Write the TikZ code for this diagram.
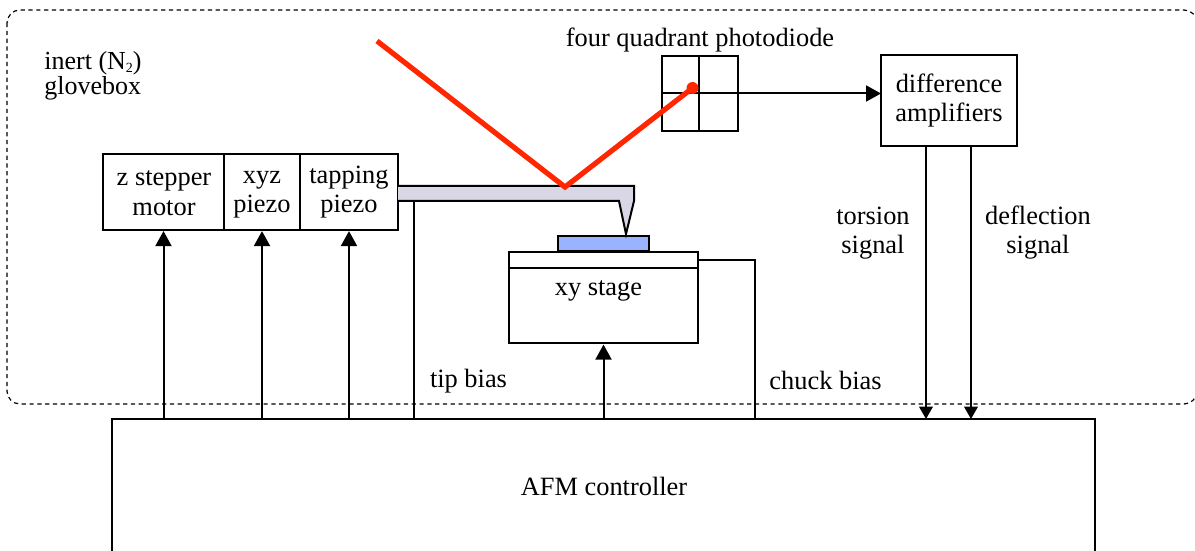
\documentclass[tikz,border=0pt]{standalone}
\usepackage{fontspec}
\setmainfont{Liberation Serif}
\usetikzlibrary{arrows.meta,calc}
\definecolor{laser}{HTML}{FF2600}
\definecolor{canti}{HTML}{D9D6E6}
\definecolor{samplec}{HTML}{99B3FF}
\tikzset{
  lbl/.style={inner sep=0pt,anchor=base,font=\fontsize{13.2}{14.6}\selectfont,align=center},
  lblleft/.style={inner sep=0pt,anchor=base west,font=\fontsize{13}{12.8}\selectfont,align=left},
  boxn/.style={draw=black,line width=1pt,inner sep=0pt,outer sep=0pt,anchor=north west},
  wire/.style={draw=black,line width=1pt},
  arr/.style={wire,-{Triangle[length=7.5pt,width=8pt]}},
  arrup/.style={arr,shorten >=0.8pt},
  arrdown/.style={wire,-{Triangle[length=6.2pt,width=6.8pt]}},
  beam/.style={draw=laser,line width=2.6pt,line join=miter},
}
\begin{document}
\begin{tikzpicture}[x=0.5pt,y=-0.5pt]
\useasboundingbox (0,0) rectangle (1195,551);
\clip (0,0) rectangle (1195,551);
% glovebox
\draw[line width=0.6pt,dash pattern=on 2.1pt off 1.8pt,rounded corners=6.5pt] (7,10) rectangle (1197,404);
\node[lblleft] (inert) at (44,95) {inert (N\raisebox{-0.25ex}{\fontsize{7}{7}\selectfont 2})\\glovebox};
% controller
\node[boxn,minimum width=491.5pt,minimum height=80pt] (ctrl) at (112,419) {};
\node[lbl] (ctrltext) at (604,495) {AFM controller};
% head boxes
\node[boxn,minimum width=60.5pt,minimum height=37.75pt] (zmotor) at (103,154) {};
\node[boxn,minimum width=38pt,minimum height=37.75pt] (xyz) at (224,154) {};
\node[boxn,minimum width=49pt,minimum height=37.75pt] (tap) at (300,154) {};
\node[lbl] (zmotortext) at (164,215) {z stepper\\motor};
\node[lbl] (xyztext) at (262,213) {xyz\\piezo};
\node[lbl] (taptext) at (349,213) {tapping\\piezo};
% xy stage
\node[boxn,minimum width=94.5pt,minimum height=8pt] (chuck) at (509,252) {};
\node[boxn,minimum width=94.5pt,minimum height=37.5pt] (stage) at (509,268) {};
\node[lbl] (stagetext) at (598.5,295) {xy stage};
\node[boxn,fill=samplec,minimum width=45.5pt,minimum height=7.5pt] (sample) at (558,236) {};
% cantilever
\draw[wire,fill=canti,line join=miter] (398,186) -- (634,186) -- (634,201) -- (626,234) -- (619,201) -- (398,201);
\coordinate (tipjoin) at (414,201);
% photodiode
\node[boxn,minimum width=38pt,minimum height=37.5pt] (pd) at (662,56) {};
\coordinate (pdt) at (699,56);
\draw[wire] (pdt) -- (pdt |- pd.south);
\draw[wire] (pd.west) -- (pd.east);
\node[lbl] (pdtext) at (700,47) {four quadrant photodiode};
% amplifiers
\node[boxn,minimum width=68pt,minimum height=45.5pt] (amp) at (881,55.5) {};
\node[lbl] (amptext) at (949,122) {difference\\amplifiers};
\coordinate (ampa) at (926,146.5);
\coordinate (ampb) at (971,146.5);
% connectors
\draw[arr] (pd.east) -- (pd.east -| amp.west);
\draw[arrup] (zmotor.south |- ctrl.north) -- (zmotor.south);
\draw[arrup] (xyz.south |- ctrl.north) -- (xyz.south);
\draw[arrup] (tap.south |- ctrl.north) -- (tap.south);
\draw[arrup] (stage.south |- ctrl.north) -- (stage.south);
\draw[wire] (tipjoin) -- (tipjoin |- ctrl.north);
\coordinate (chuckj) at (755,260);
\draw[wire] (chuck.east) -- (chuckj) -- (chuckj |- ctrl.north);
\draw[arrdown] (ampa) -- (ampa |- ctrl.north);
\draw[arrdown] (ampb) -- (ampb |- ctrl.north);
% labels
\node[lbl] (tiplabel) at (468.5,387) {tip bias};
\node[lbl] (chucklabel) at (825.5,389) {chuck bias};
\node[lbl] (torsion) at (873,254) {torsion\\signal};
\node[lbl] (deflection) at (1038,254) {deflection\\signal};
% laser
\coordinate (ls) at (377,41);
\coordinate (lm) at (565,187);
\coordinate (le) at (692.5,88);
\draw[beam] (ls) -- (lm) -- (le);
\fill[laser] (le) circle (6);
\end{tikzpicture}
\end{document}
